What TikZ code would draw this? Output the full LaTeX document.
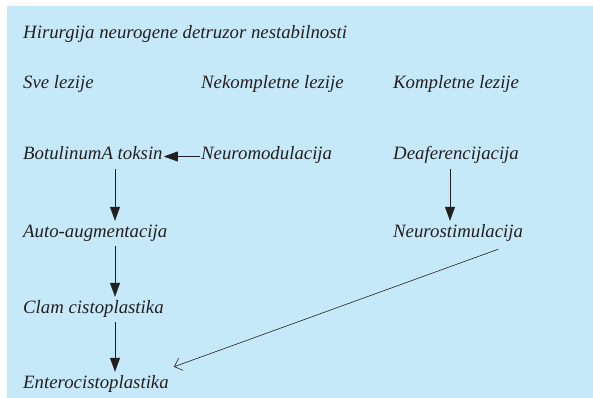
\documentclass[tikz,border=0pt]{standalone}
\usepackage{fontspec}
\setmainfont{Liberation Serif}
\usetikzlibrary{arrows.meta, positioning}

\definecolor{panelblue}{RGB}{198,233,249}
\definecolor{inkgray}{RGB}{35,31,32}

\begin{document}
\begin{tikzpicture}[
    x=1pt, y=-1pt,
    >=Stealth,
    lbl/.style={anchor=base west, inner sep=1pt, font=\fontsize{18.8}{22}\selectfont\itshape,
                text=inkgray, text height=15pt, text depth=8pt},
    arrow/.style={-{Triangle[length=14pt, width=10pt]}, inkgray, line width=0.7pt},
    thinarrow/.style={-{Straight Barb[length=7pt, width=13pt, line width=0.6pt]}, inkgray, line width=0.6pt},
]

% panel
\useasboundingbox (0,0) rectangle (593,398);
\fill[panelblue] (7,6) rectangle (593,398);

% === title and column heads ===
\node[lbl] (title) at (22,39) {Hirurgija neurogene detruzor nestabilnosti};
\node[lbl] (head-all) at (22,89) {Sve lezije};
\node[lbl] (head-inc) at (200,89) {Nekompletne lezije};
\node[lbl] (head-com) at (392,89) {Kompletne lezije};

% === left column ===
\node[lbl] (botox) at (22,160) {BotulinumA toksin};
\node[lbl] (auto) at (22,237) {Auto-augmentacija};
\node[lbl] (clam) at (22,313) {Clam cistoplastika};
\node[lbl] (entero) at (22,388) {Enterocistoplastika};

% === middle and right ===
\node[lbl] (neuromod) at (200,160) {Neuromodulacija};
\node[lbl] (deaff) at (392,160) {Deaferencijacija};
\node[lbl] (neurostim) at (392,237) {Neurostimulacija};

% arrow axes
\coordinate (axis-l) at (115,0);
\coordinate (axis-r) at (450,0);

\draw[arrow] (neuromod.west) -- (botox.east);
\draw[arrow] (botox.south -| axis-l) -- (auto.north -| axis-l);
\draw[arrow] (auto.south -| axis-l) -- (clam.north -| axis-l);
\draw[arrow] (clam.south -| axis-l) -- (entero.north -| axis-l);
\draw[arrow] (deaff.south -| axis-r) -- (neurostim.north -| axis-r);

% diagonal
\draw[thinarrow] ([xshift=-26pt, yshift=-3pt]neurostim.south east) -- ([xshift=4pt, yshift=5pt]entero.north east);

\end{tikzpicture}
\end{document}
